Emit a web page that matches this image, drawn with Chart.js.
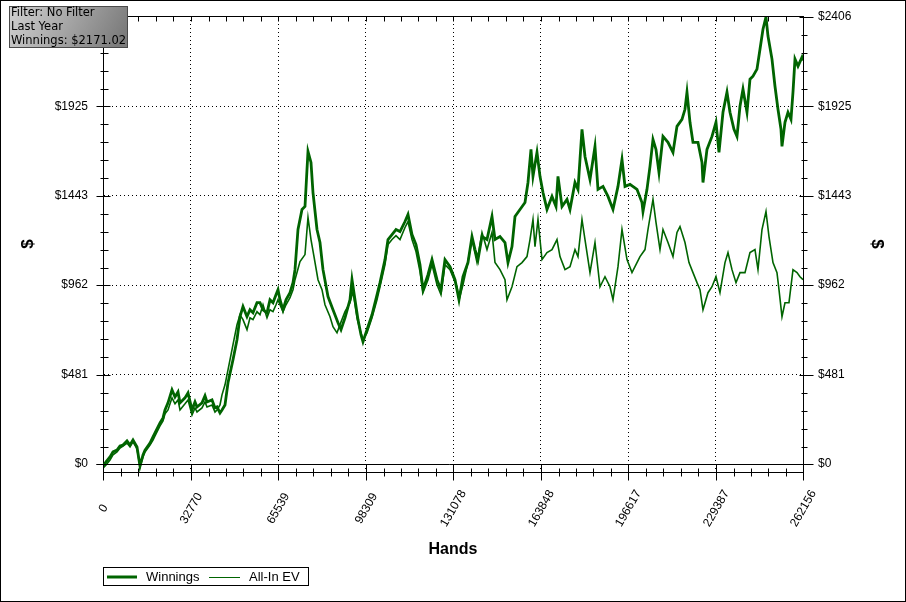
<!DOCTYPE html>
<html>
<head>
<meta charset="utf-8">
<script src="https://cdn.jsdelivr.net/npm/chart.js@4.4.1/dist/chart.umd.min.js"></script>
<style>
  html, body { margin: 0; padding: 0; background: #fff; }
  canvas { display: block; }
</style>
</head>
<body>
<canvas id="myChart" width="906" height="602"></canvas>
<script>
// axis ticks
const handTicks = [0, 32770, 65539, 98309, 131078, 163848, 196617, 229387, 262156];
const handLabels = ["0", "32770", "65539", "98309", "131078", "163848", "196617", "229387", "262156"];
const dollarTicks = [0, 481.2, 962.4, 1443.6, 1924.8, 2406];
const dollarLabels = ["$0", "$481", "$962", "$1443", "$1925", "$2406"];

const filterLines = ["Filter: No Filter", "Last Year", "Winnings: $2171.02"];

// Winnings
const winHands = [0,1124,2622,3745,5243,6367,7490,8988,10112,11235,12733,13857,14980,15729,17602,18725,19474,21347,22470,23219,24343,25841,26964,28088,28837,30709,31833,33331,34454,35203,37076,38199,38948,40821,41944,42693,43817,44566,45689,46813,48685,50183,51307,52430,53928,55052,56175,57673,58797,59920,61418,62542,63665,64789,65538,
  66287,67410,68534,70032,71155,71904,73028,74526,75649,76398,76773,77896,78645,80143,81267,82390,84263,86135,88008,89131,90629,92502,93251,94374,95498,96621,97370,98868,100741,102613,103737,105609,106733,108231,109729,111227,113099,114223,115721,117219,118717,119840,121713,123211,125083,126581,128079,129952,131824,
  133322,134820,136693,138191,139314,140438,141936,143808,145681,146804,148677,150549,151673,153171,154294,156167,158039,159163,160286,161035,162533,163657,164780,166278,168151,169649,170398,171896,173768,174892,176764,177888,179386,180509,182382,184254,185378,187250,189123,190995,192868,194366,195489,197362,
  199983,201856,202230,203728,204852,205975,207099,208222,209720,211593,213465,214963,216836,217959,218708,219832,220955,222828,224326,224700,226198,228071,229569,230692,232190,233688,234812,236310,237433,238557,239680,241178,242302,243425,244923,246047,247170,248294,249043,250541,251664,252788,253911,254286,255409,256533,257656,258405,259154,260278,261776,262156];
const winnings = [-11,11,38,65,75,97,102,124,102,129,92,-11,49,75,113,146,167,221,248,291,329,399,361,388,329,356,383,291,334,307,329,367,334,345,302,307,275,291,318,437,561,669,793,847,793,830,814,868,868,830,814,884,868,911,938,
  884,830,884,922,976,1046,1262,1370,1386,1585,1682,1623,1461,1262,1192,1046,901,830,760,723,787,884,992,884,777,696,658,723,803,911,976,1100,1208,1235,1262,1251,1305,1343,1235,1181,1073,938,1019,1100,992,938,1100,1062,992,
  884,1008,1084,1224,1154,1100,1224,1208,1332,1208,1224,1192,1084,1170,1332,1370,1407,1515,1693,1548,1677,1548,1461,1370,1440,1386,1548,1386,1424,1370,1515,1478,1801,1655,1531,1709,1478,1494,1440,1370,1494,1639,1494,1505,
  1478,1407,1359,1478,1602,1747,1693,1569,1763,1731,1677,1817,1855,1909,2001,1839,1731,1731,1623,1515,1693,1763,1839,1677,1893,2001,1893,1801,1763,1925,2017,1893,2071,2087,2125,2232,2340,2406,2303,2179,2033,1909,1801,1709,1839,1893,1855,2001,2179,2141,2189,2171.02];

// All-In EV
const evHands = [0,1124,2622,3745,5243,6367,7490,8988,10112,11235,12733,13857,14980,15729,17602,18725,19474,21347,22470,23219,24343,25841,26964,28088,28837,30709,31833,33331,34454,35203,37076,38199,38948,40821,41944,42693,43817,44566,45689,46813,48685,50183,51307,52430,53928,55052,56175,57673,58797,59920,61418,62542,63665,64789,65538,
  66287,67410,68534,70032,71155,71904,73777,75649,76773,77896,79020,80518,82016,83139,85012,86135,87633,88757,90629,92502,93625,95123,96247,97370,98868,100741,102613,103737,105609,106733,108231,109729,111227,113099,114223,115721,117219,118717,119840,121713,123211,125083,126581,128079,129952,
  132573,133322,134820,136318,138191,140063,141936,143808,145681,146804,148677,150549,151298,153171,155043,156916,158788,159912,161035,161784,162908,164406,166278,168151,170023,171147,173019,174892,176764,177888,179386,180509,182382,184254,186127,187999,189872,190995,192868,194366,196238,198111,199983,
  201107,202979,204103,205975,207099,208597,209720,211593,213465,214963,216087,217959,219457,220955,222453,223577,224700,226573,228071,229569,231067,232939,234063,235561,237059,238557,240429,242302,244174,245298,246796,248294,249417,250915,252413,253162,254286,255409,256907,258405,259903,261027,262156];
const allInEv = [-22,-5,22,49,65,86,97,113,92,119,81,-16,38,65,102,129,151,205,232,270,291,356,324,345,291,324,345,264,302,280,302,334,307,318,280,291,318,372,426,507,642,750,803,777,723,787,777,820,803,857,787,830,820,857,884,
  857,820,857,895,938,992,1089,1127,1327,1208,1116,992,938,857,793,739,706,750,820,868,928,787,723,669,706,787,884,954,1073,1181,1208,1229,1208,1273,1305,1208,1143,1035,922,992,1073,965,911,1073,1046,
  954,884,965,1062,1208,1084,1246,1154,1246,1084,1046,992,884,954,1062,1084,1116,1208,1316,1170,1316,1100,1138,1154,1208,1116,1046,1062,1154,1116,1316,1208,1030,1192,954,1008,954,884,1062,1262,1100,1030,1084,
  1116,1154,1262,1424,1300,1154,1262,1192,1116,1246,1278,1192,1084,1030,976,938,830,922,954,1008,922,1084,1138,1046,976,1030,1030,1138,1154,1046,1262,1359,1224,1084,1030,938,793,868,868,1046,1030,1008,992];

const lineColor = "#006400";
const tickFont = { family: "Liberation Sans", size: 12 };

function toPoints(xs, ys) {
  return xs.map((h, i) => ({ x: h, y: ys[i] }));
}

// frame, tick marks, x labels, zero line, filter box and legend
const chartDecor = {
  id: "chartDecor",
  afterDraw(chart) {
    const { ctx, chartArea: a, scales } = chart;
    const x = scales.x, y = scales.y;
    ctx.save();
    ctx.strokeStyle = "#000";
    ctx.lineWidth = 1;
    const line = (x1, y1, x2, y2) => {
      ctx.beginPath();
      ctx.moveTo(x1, y1);
      ctx.lineTo(x2, y2);
      ctx.stroke();
    };
    const top = Math.round(a.top) + 0.5;
    const bottom = Math.round(a.bottom) + 0.5;
    const left = Math.round(a.left) + 0.5;
    const right = Math.round(a.right) + 0.5;

    line(a.left, top, a.right, top);
    const zero = Math.round(y.getPixelForValue(0)) + 0.5;
    line(left - 7, zero, a.right, zero);

    // x ticks + rotated labels centred under each tick
    ctx.fillStyle = "#000";
    ctx.font = "12px 'Liberation Sans'";
    ctx.textAlign = "center";
    ctx.textBaseline = "middle";
    for (let i = 0; i < handTicks.length; i++) {
      const px = Math.round(x.getPixelForValue(handTicks[i])) + 0.5;
      line(px, bottom - 8, px, bottom + 8);
      line(px, top, px, top + 5);
      ctx.save();
      ctx.translate(px, bottom + 36);
      ctx.rotate(-Math.PI / 3);
      ctx.fillText(handLabels[i], 0, 0);
      ctx.restore();
      if (i < handTicks.length - 1) {
        const nx = x.getPixelForValue(handTicks[i + 1]);
        for (let k = 1; k < 5; k++) {
          const mx = Math.round(px + (nx - px) * k / 5) + 0.5;
          line(mx, bottom - 4, mx, bottom + 4);
          line(mx, top, mx, top + 5);
        }
      }
    }
    ctx.textAlign = "left";
    // y ticks, both sides
    for (let i = 0; i < dollarTicks.length; i++) {
      const py = Math.round(y.getPixelForValue(dollarTicks[i])) + 0.5;
      line(left - 7, py, left + 7, py);
      line(right - 4, py, right + 10, py);
      if (i < dollarTicks.length - 1) {
        const ny = y.getPixelForValue(dollarTicks[i + 1]);
        for (let k = 1; k < 5; k++) {
          const my = Math.round(py + (ny - py) * k / 5) + 0.5;
          line(left - 3, my, left + 5, my);
          line(right - 2, my, right + 4, my);
        }
      }
    }

    // legend
    ctx.strokeRect(103.5, 567.5, 205, 18);
    ctx.strokeStyle = lineColor;
    ctx.lineWidth = 3;
    line(107, 577, 137, 577);
    ctx.lineWidth = 1;
    line(209, 577.5, 240, 577.5);
    ctx.font = "13px 'Liberation Sans'";
    ctx.fillText("Winnings", 146, 577);
    ctx.fillText("All-In EV", 249, 577);

    // filter box
    const g = ctx.createLinearGradient(9, 6, 110, 60);
    g.addColorStop(0, "#d2d2d2");
    g.addColorStop(1, "#7c7c7c");
    ctx.fillStyle = g;
    ctx.fillRect(9, 6, 119, 42);
    ctx.strokeStyle = "#4a4a4a";
    ctx.strokeRect(9.5, 6.5, 118, 41);
    ctx.fillStyle = "#000";
    ctx.font = "11.5px 'DejaVu Sans'";
    filterLines.forEach((t, i) => ctx.fillText(t, 11, 13.5 + i * 14));

    // outer border
    ctx.strokeStyle = "#000";
    ctx.strokeRect(0.5, 0.5, 905, 601);
    ctx.restore();
  }
};

const yTicks = {
  color: "#000",
  font: tickFont,
  padding: 0,
  callback: (v, i) => dollarLabels[i],
};

const ctx = document.getElementById("myChart").getContext("2d");
const myChart = new Chart(ctx, {
  type: "line",
  data: {
    datasets: [
      {
        label: "All-In EV",
        data: toPoints(evHands, allInEv),
        borderColor: lineColor,
        borderWidth: 1.6,
        pointRadius: 0,
        tension: 0,
      },
      {
        label: "Winnings",
        data: toPoints(winHands, winnings),
        borderColor: lineColor,
        borderWidth: 2.8,
        pointRadius: 0,
        tension: 0,
      },
    ],
  },
  options: {
    responsive: false,
    animation: false,
    devicePixelRatio: 1,
    layout: { padding: { top: 16, left: 0, right: 0, bottom: 0 } },
    plugins: { legend: { display: false }, tooltip: { enabled: false } },
    scales: {
      x: {
        type: "linear",
        min: 0,
        max: 262156,
        afterFit: (s) => { s.height = 130; },
        afterBuildTicks: (s) => { s.ticks = handTicks.map((v) => ({ value: v })); },
        ticks: { display: false },
        grid: { drawTicks: false, color: "#000" },
        border: { color: "#000", dash: [1, 3] },
        title: {
          display: true,
          text: "Hands",
          color: "#000",
          font: { family: "Liberation Sans", size: 16, weight: "bold" },
          padding: { bottom: 43 },
        },
      },
      y: {
        position: "left",
        min: -43,
        max: 2411,
        afterFit: (s) => { s.width = 103; },
        afterBuildTicks: (s) => { s.ticks = dollarTicks.map((v) => ({ value: v })); },
        ticks: yTicks,
        grid: { drawTicks: true, tickLength: 15, tickColor: "rgba(0,0,0,0)", color: "#000" },
        border: { color: "#000", dash: [1, 3] },
        title: {
          display: true,
          text: "$",
          color: "#000",
          font: { family: "Liberation Sans", size: 17, weight: "bold" },
          padding: { top: 18 },
        },
      },
      y2: {
        position: "right",
        min: -43,
        max: 2411,
        afterFit: (s) => { s.width = 103; },
        afterBuildTicks: (s) => { s.ticks = dollarTicks.map((v) => ({ value: v })); },
        ticks: yTicks,
        grid: { drawTicks: true, tickLength: 15, tickColor: "rgba(0,0,0,0)", drawOnChartArea: false },
        border: { color: "#000" },
        title: {
          display: true,
          text: "$",
          color: "#000",
          font: { family: "Liberation Sans", size: 17, weight: "bold" },
          padding: { top: 19 },
        },
      },
    },
  },
  plugins: [chartDecor],
});
</script>
</body>
</html>
